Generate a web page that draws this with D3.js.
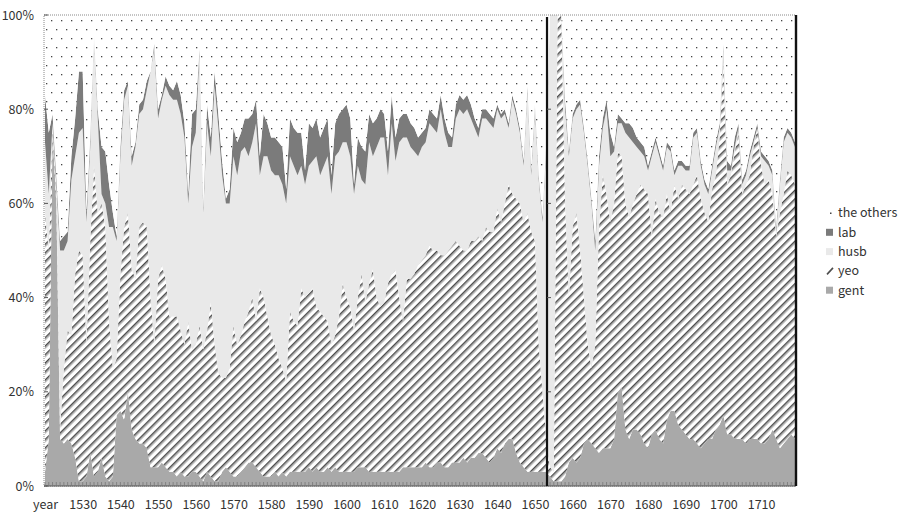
<!DOCTYPE html>
<html>
<head>
<meta charset="utf-8">
<script src="https://cdn.jsdelivr.net/npm/d3@7"></script>
<style>
  body { margin: 0; background: #fff; }
  text { font-family: "Noto Sans CJK JP", "Noto Sans", sans-serif; fill: #333; }
</style>
</head>
<body>
<svg id="chart" width="901" height="514"></svg>
<script>
// Occupational shares per year, 1520-1719 (percent of each year's total)
const years = d3.range(1520, 1720);

const gent = [
  3,10,75,60,10,9,10,9,6,1,
  1,2,7,2,3,6,2,1,2,15,
  16,14,20,12,10,9,9,8,4,4,
  4,5,4,3,3,2,3,2,2,3,
  3,2,1,3,2,1,1,3,4,3,
  2,2,3,4,5,5,4,3,2,2,
  2,3,2,3,2,3,3,3,3,3,
  4,3,4,3,3,4,3,4,3,3,
  3,3,3,4,4,4,3,3,3,3,
  3,3,3,3,3,4,4,4,4,4,
  4,5,4,4,5,5,4,4,5,5,
  5,6,5,6,6,7,7,6,5,6,
  8,7,9,10,10,7,5,4,3,3,
  3,3,3,3,2,1,1,1,2,5,
  6,5,6,9,10,9,8,7,8,8,
  8,10,20,21,12,10,12,12,11,9,
  8,11,12,10,9,14,16,16,13,12,
  11,10,10,9,8,9,10,10,12,13,
  15,11,11,10,10,10,9,10,10,10,
  9,9,10,12,10,8,9,10,11,10
];

const yeo = [
  55,40,1,2,2,16,23,23,39,49,
  48,28,45,66,55,54,53,34,23,12,
  29,41,38,34,34,46,47,47,36,26,
  40,42,40,33,33,34,30,28,33,26,
  27,32,28,30,37,29,23,20,19,22,
  32,28,29,31,32,35,31,39,38,34,
  30,27,25,22,20,34,32,31,39,37,
  37,39,34,34,33,31,27,28,33,40,
  37,35,30,36,41,35,40,43,37,35,
  36,40,42,43,37,31,40,40,41,43,
  44,44,47,46,45,44,45,46,46,47,
  46,44,45,46,46,46,45,49,49,48,
  51,49,51,54,52,54,55,52,55,51,
  49,27,17,7,2,2,99,99,58,35,
  49,53,44,31,20,16,22,48,58,54,
  48,50,51,49,48,47,48,50,53,54,
  54,42,49,48,48,48,42,48,48,52,
  52,52,54,57,53,49,46,53,54,61,
  75,53,55,61,65,52,55,56,62,66,
  59,55,55,50,43,50,53,57,55,54
];

const husb = [
  15,12,1,2,38,25,19,33,25,25,
  27,26,20,28,20,2,5,20,30,25,
  25,27,27,22,28,24,24,29,48,63,
  34,35,41,47,46,46,46,44,25,43,
  45,58,29,44,31,55,52,43,37,35,
  36,36,39,37,33,33,42,24,30,34,
  35,36,39,39,38,33,33,32,26,24,
  27,27,32,29,32,35,32,38,35,30,
  33,32,29,28,20,25,30,24,32,36,
  35,23,32,23,33,39,30,28,26,23,
  24,24,26,26,25,31,26,22,21,26,
  29,29,30,26,24,21,26,23,23,22,
  21,22,19,12,20,18,15,12,26,12,
  28,35,36,62,96,97,0,0,20,30,
  23,22,31,35,38,35,20,13,10,18,
  14,11,6,7,15,17,13,10,7,7,
  5,17,12,12,10,10,13,2,7,4,
  4,5,10,9,7,6,6,4,6,2,
  3,3,1,1,1,2,2,4,1,0,
  2,5,3,4,1,6,11,8,8,8
];

const lab = [
  10,13,2,2,2,3,2,5,8,13,
  12,2,2,0,2,10,11,9,3,1,
  2,2,1,2,1,2,2,2,0,1,
  2,1,2,2,2,4,4,3,2,7,
  5,1,1,4,4,3,3,3,1,3,
  6,7,4,6,8,6,5,4,9,7,
  7,8,7,8,3,8,8,9,7,3,
  9,7,8,8,8,8,4,7,8,7,
  8,8,2,6,7,7,6,7,6,6,
  5,5,6,5,5,5,5,5,5,4,
  3,3,3,3,3,3,3,3,2,3,
  3,3,3,3,2,2,2,2,2,2,
  1,1,1,1,1,1,1,1,1,1,
  1,1,1,1,0,0,0,0,2,1,
  1,1,1,1,1,1,2,2,2,2,
  5,1,2,1,2,3,3,2,2,2,
  1,1,1,1,1,1,1,1,1,1,
  1,1,1,1,1,1,1,1,1,1,
  1,2,1,2,1,1,1,1,1,1,
  1,1,1,1,1,1,1,1,1,1
];

const others = [
  17,25,21,34,48,47,46,30,22,12,
  12,42,26,4,20,28,29,36,42,47,
  28,16,14,30,27,19,18,14,12,6,
  20,17,13,15,16,14,17,23,38,21,
  20,7,41,19,26,12,21,31,39,37,
  24,27,25,22,22,21,18,30,21,23,
  26,26,27,28,37,22,24,25,25,33,
  23,24,22,26,24,22,34,23,21,20,
  19,22,36,26,28,29,21,23,22,20,
  21,29,17,26,22,21,21,23,24,26,
  25,24,20,21,22,17,22,25,26,19,
  17,18,17,19,22,24,20,20,21,22,
  19,21,20,23,17,20,24,31,15,33,
  19,34,43,27,0,0,0,0,18,29,
  21,19,18,24,31,39,48,30,22,18,
  25,28,21,22,23,23,24,26,27,28,
  32,29,26,29,32,27,28,33,31,31,
  32,32,25,24,31,35,37,32,27,23,
  6,31,32,26,23,35,33,29,26,23,
  29,30,31,33,45,35,26,24,25,27
];

const seriesKeys = ["gent", "yeo", "husb", "lab", "others"];
const legendKeys = ["the others", "lab", "husb", "yeo", "gent"];
const xTickYears = [1520, 1530, 1540, 1550, 1560, 1570, 1580, 1590, 1600, 1610,
                    1620, 1630, 1640, 1650, 1660, 1670, 1680, 1690, 1700, 1710];
const xTickLabels = ["year", "1530", "1540", "1550", "1560", "1570", "1580", "1590", "1600", "1610",
                     "1620", "1630", "1640", "1650", "1660", "1670", "1680", "1690", "1700", "1710"];
const yTicks = [0, 0.2, 0.4, 0.6, 0.8, 1];
const dividerYear = 1653.2;

const rows = years.map((yr, i) => ({
  year: yr, gent: gent[i], yeo: yeo[i], husb: husb[i], lab: lab[i], others: others[i]
}));

const svg = d3.select("#chart");
const plot = { left: 44, right: 796, top: 15, bottom: 486 };

const x = d3.scaleLinear().domain([1520, 1719]).range([45, 795]);
const y = d3.scaleLinear().domain([0, 1]).range([plot.bottom, plot.top]);

// fill patterns
const defs = svg.append("defs");
const dots = defs.append("pattern").attr("id", "dots")
  .attr("patternUnits", "userSpaceOnUse").attr("width", 10).attr("height", 18);
dots.append("rect").attr("width", 10).attr("height", 18).attr("fill", "#fff");
dots.append("rect").attr("x", 1).attr("y", 2).attr("width", 1.3).attr("height", 1.3).attr("fill", "#444");
dots.append("rect").attr("x", 6).attr("y", 11).attr("width", 1.3).attr("height", 1.3).attr("fill", "#444");

const hatch = defs.append("pattern").attr("id", "hatch")
  .attr("patternUnits", "userSpaceOnUse").attr("width", 6).attr("height", 6)
  .attr("patternTransform", "rotate(45)");
hatch.append("rect").attr("width", 6).attr("height", 6).attr("fill", "#fff");
hatch.append("rect").attr("x", 0).attr("width", 1.6).attr("height", 6).attr("fill", "#4d4d4d");
hatch.append("rect").attr("x", 1.6).attr("width", 1).attr("height", 6).attr("fill", "#a5a5a5");

const fills = {
  gent: "#a9a9a9",
  yeo: "url(#hatch)",
  husb: "#e9e9e9",
  lab: "#7b7b7b",
  others: "url(#dots)"
};

// stacked 100% areas
const stacked = d3.stack().keys(seriesKeys).offset(d3.stackOffsetExpand)(rows);
const area = d3.area()
  .x(d => x(d.data.year))
  .y0(d => y(d[0]))
  .y1(d => y(d[1]));

svg.append("g").selectAll("path").data(stacked).join("path")
  .attr("d", area)
  .attr("fill", d => fills[d.key]);

// plot frame (dotted)
svg.append("rect")
  .attr("x", plot.left).attr("y", plot.top)
  .attr("width", plot.right - plot.left).attr("height", plot.bottom - plot.top)
  .attr("fill", "none").attr("stroke", "#888").attr("stroke-dasharray", "1,1");

// y axis labels
const yAxis = svg.append("g").attr("transform", `translate(${plot.left},0)`)
  .call(d3.axisLeft(y).tickValues(yTicks).tickFormat(d3.format(".0%")).tickSize(0).tickPadding(10));
yAxis.select(".domain").remove();
yAxis.selectAll("text").style("font-size", "12.5px").attr("fill", "#333");

// inner tick marks on left edge
svg.append("g").selectAll("line").data(yTicks).join("line")
  .attr("x1", plot.left).attr("x2", plot.left + 4)
  .attr("y1", d => y(d)).attr("y2", d => y(d))
  .attr("stroke", "#555");

// x axis
svg.append("line")
  .attr("x1", plot.left).attr("x2", plot.right)
  .attr("y1", plot.bottom).attr("y2", plot.bottom)
  .attr("stroke", "#555");
svg.append("g").selectAll("line").data(years).join("line")
  .attr("x1", d => x(d)).attr("x2", d => x(d))
  .attr("y1", plot.bottom).attr("y2", plot.bottom - 4)
  .attr("stroke", "#777").attr("stroke-width", 0.8);

const xAxis = svg.append("g").attr("transform", `translate(0,${plot.bottom})`)
  .call(d3.axisBottom(x).tickValues(xTickYears).tickFormat((d, i) => xTickLabels[i]).tickSize(0).tickPadding(14));
xAxis.select(".domain").remove();
xAxis.selectAll("text").style("font-size", "12.5px").attr("fill", "#333");

// vertical divider and right edge
svg.append("line")
  .attr("x1", x(dividerYear)).attr("x2", x(dividerYear))
  .attr("y1", plot.top + 2).attr("y2", plot.bottom)
  .attr("stroke", "#111").attr("stroke-width", 2.2);
svg.append("g").selectAll("line").data(yTicks.slice(1, 5)).join("line")
  .attr("x1", x(dividerYear)).attr("x2", x(dividerYear) + 4)
  .attr("y1", d => y(d)).attr("y2", d => y(d))
  .attr("stroke", "#555");
svg.append("line")
  .attr("x1", plot.right).attr("x2", plot.right)
  .attr("y1", plot.top).attr("y2", plot.bottom)
  .attr("stroke", "#111").attr("stroke-width", 2.4);

// legend
const legend = svg.append("g").attr("transform", "translate(826,213)");
const item = legend.selectAll("g").data(legendKeys).join("g")
  .attr("transform", (d, i) => `translate(0,${i * 19.3})`);
item.append("text").attr("x", 12).attr("y", 0).attr("dy", "0.35em")
  .style("font-size", "12.5px").attr("fill", "#333").text(d => d);
item.each(function (d) {
  const g = d3.select(this);
  if (d === "the others") {
    g.append("rect").attr("x", 4).attr("y", -0.5).attr("width", 1.5).attr("height", 1.5).attr("fill", "#444");
  } else if (d === "yeo") {
    g.append("line").attr("x1", 1).attr("y1", 3.5).attr("x2", 7).attr("y2", -3)
      .attr("stroke", "#4d4d4d").attr("stroke-width", 1.6);
  } else {
    g.append("rect").attr("x", 0).attr("y", -3.5).attr("width", 7).attr("height", 7)
      .attr("fill", fills[d]);
  }
});
</script>
</body>
</html>
